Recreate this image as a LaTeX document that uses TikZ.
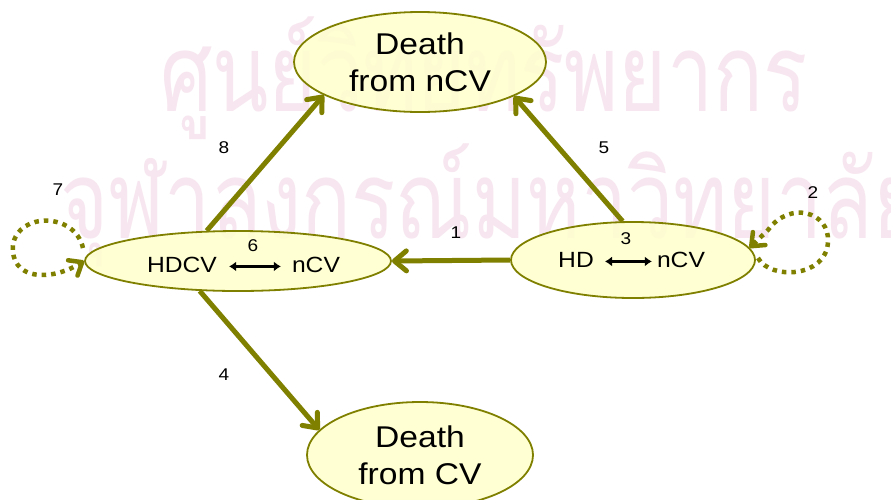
\documentclass[tikz,border=0pt]{standalone}
\usepackage{fontspec}
\setmainfont{Liberation Sans}[FakeStretch=1.12]
\newfontfamily\thaifont[Script=Thai]{Loma}
\usetikzlibrary{shapes.geometric,arrows.meta}
\definecolor{olv}{RGB}{128,128,0}
\definecolor{lightyel}{RGB}{255,255,204}
\definecolor{wm}{RGB}{247,230,239}
\tikzset{
  state/.style={ellipse, draw=olv, line width=1.8pt, fill=lightyel, fill opacity=0.85, text opacity=1, inner sep=0pt},
  arr/.style={draw=olv, line width=5pt, -{Straight Barb[length=12pt,width=20pt,round]}},
  looparr/.style={draw=olv, line width=4.5pt, dash pattern=on 4.5pt off 5pt, -{Straight Barb[length=11pt,width=18pt,round]}},
  num/.style={font=\fontsize{17}{19}\selectfont, inner sep=0pt},
  big/.style={font=\fontsize{30}{37}\selectfont, align=center},
  mid/.style={font=\fontsize{22}{26}\selectfont, inner sep=0pt},
  dbl/.style={line width=2.4pt, {Latex[length=7pt,width=10pt]}-{Latex[length=7pt,width=10pt]}},
  wmark/.style={anchor=base west, inner sep=0pt, text=wm, font=\thaifont\fontsize{80}{80}\selectfont}
}
\begin{document}
\begin{tikzpicture}[x=1pt,y=-1pt]
\fill[white] (0,0) rectangle (891,499);
\useasboundingbox (0,0) rectangle (891,499);
% watermark
\node[wmark] (wm1) at (160,111) {\scalebox{1.03}[1.35]{ศูนย์วิทยทรัพยากร}};
\node[wmark] (wm2) at (60,238) {\scalebox{1.03}[1.35]{จุฬาลงกรณ์มหาวิทยาลัย}};
% states
\node[state, big, minimum width=252pt, minimum height=100pt] (dncv) at (420,62) {Death\\from nCV};
\node[state, minimum width=306pt, minimum height=60pt] (hdcv) at (238,261) {};
\node[state, minimum width=244pt, minimum height=76pt] (hd) at (633,260) {};
\node[state, big, minimum width=226pt, minimum height=106pt] (dcv) at (420,455) {Death\\from CV};
% inner texts
\node[mid, anchor=base] (thdcv) at (182,272) {HDCV};
\node[mid, anchor=base] (tncva) at (316,272) {nCV};
\draw[dbl] ([xshift=12pt,yshift=-2pt]thdcv.east) -- ([xshift=-11pt,yshift=-2pt]thdcv.east -| tncva.west);
\node[num] (n6) at (253,246) {6};
\node[mid, anchor=base] (thd) at (576,267) {HD};
\node[mid, anchor=base] (tncvb) at (681,267) {nCV};
\draw[dbl] ([xshift=11pt,yshift=-2pt]thd.east) -- ([xshift=-5pt,yshift=-2pt]thd.east -| tncvb.west);
\node[num] (n3) at (626,239) {3};
% transitions
\draw[arr] (hd.west) -- (hdcv.east);
\draw[arr] (hdcv.136) -- (dncv.199);
\draw[arr] (hd.105) -- (dncv.340);
\draw[arr] (hdcv.218) -- (dcv.166);
\coordinate (l7s) at (83,248);
\draw[looparr] (l7s) .. controls (75,212) and (18,212) .. (13,245) .. controls (10,280) and (50,282) .. (hdcv.west);
\coordinate (l2s) at (758,258);
\draw[looparr] (l2s) .. controls (770,280) and (826,278) .. (828,242) .. controls (830,212) and (790,200) .. (768,230) -- (hd.6);
% labels
\node[num] (n1) at (456,233) {1};
\node[num] (n2) at (813,193) {2};
\node[num] (n4) at (224,375) {4};
\node[num] (n5) at (604,148) {5};
\node[num] (n7) at (58,190) {7};
\node[num] (n8) at (224,148) {8};
\end{tikzpicture}
\end{document}
